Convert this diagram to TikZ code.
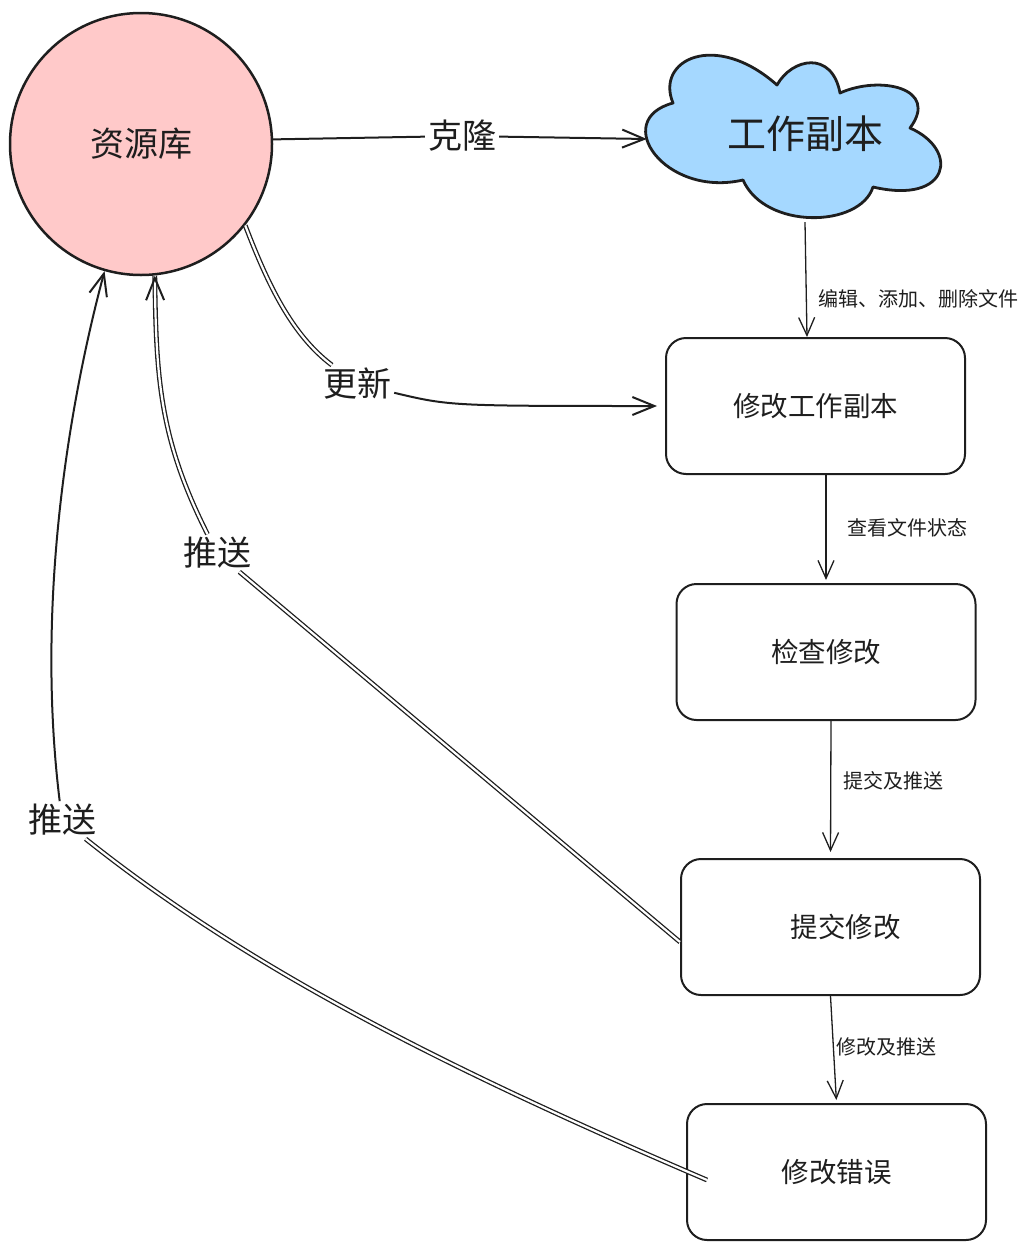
\documentclass[tikz,border=0pt]{standalone}
\usepackage{fontspec}
\setmainfont{Noto Sans CJK SC}
\usetikzlibrary{arrows.meta}
\definecolor{ink}{HTML}{1E1E1E}
\definecolor{pinkfill}{HTML}{FFC9C9}
\definecolor{bluefill}{HTML}{A5D8FF}
\begin{document}
\begin{tikzpicture}[x=1pt,y=-1pt,
  box/.style={draw=ink, line width=2pt, rounded corners=20pt, minimum width=299pt, minimum height=136pt, text=ink, font=\fontsize{27.5}{32}\selectfont},
  bigl/.style={text=ink, font=\fontsize{34}{38}\selectfont, inner sep=3pt},
  elab/.style={text=ink, font=\fontsize{20}{23}\selectfont, inner sep=0pt, anchor=west},
  thinedge/.style={draw=ink, line width=1.3pt, -{Straight Barb[length=18pt,width=16pt]}},
  edge/.style={draw=ink, line width=2pt},
  dbl/.style={draw=ink, line width=1.3pt, double=white, double distance=2.2pt},
  tip/.style={-{Straight Barb[length=22pt,width=18pt]}},
  tiponly/.style={draw=ink, line width=2pt, dash pattern=on 0pt off 9000pt, tip}
]
\useasboundingbox (0,0) rectangle (1025,1250);

% repository circle
\node[circle, draw=ink, line width=2.5pt, fill=pinkfill, minimum size=262pt, inner sep=0pt,
      text=ink, font=\fontsize{34}{38}\selectfont] (repo) at (141,144) {资源库};

% working copy cloud
\draw[draw=ink, line width=2.8pt, fill=bluefill, line join=round]
  (673,103) .. controls (655,60) and (715,30) .. (777,85)
  .. controls (792,58) and (832,50) .. (840,93)
  .. controls (880,75) and (940,88) .. (910,128)
  .. controls (960,150) and (950,205) .. (873,187)
  .. controls (860,228) and (765,230) .. (743,180)
  .. controls (665,198) and (610,120) .. cycle;
\node[minimum width=316pt, minimum height=176pt, inner sep=0pt, text=ink,
      font=\fontsize{39}{44}\selectfont] (wc) at (805,134) {工作副本};

% boxes
\node[box] (b1) at (815.5,406) {修改工作副本};
\node[box] (b2) at (826,652) {检查修改};
\node[box] (b3) at (830.5,927) {\hspace*{30pt}提交修改};
\node[box] (b4) at (836.5,1172) {修改错误};

% edge labels (big)
\node[bigl] (lclone) at (462,136) {克隆};
\node[bigl] (lupd) at (357,384) {更新};
\node[bigl] (lp1) at (217,553) {推送};
\node[bigl] (lp2) at (62,820) {推送};

% clone
\draw[edge] (repo.2) -- (lclone);
\draw[edge, tip] (lclone) -- ([yshift=-5pt]wc.west);

% cloud -> b1
\draw[thinedge] (wc.south) -- node[elab, pos=0.67, xshift=11pt] {编辑、添加、删除文件} ([xshift=-8.5pt]b1.north);
% b1 -> b2
\draw[thinedge, shorten >=3pt] ([xshift=10.5pt]b1.south) -- node[elab, pos=0.49, xshift=21pt] {查看文件状态} (b2.north);
% b2 -> b3
\draw[thinedge, shorten >=6pt] ([xshift=5pt]b2.south) -- node[elab, pos=0.44, xshift=12pt] {提交及推送} (b3.north);
% b3 -> b4
\draw[thinedge, shorten >=3pt] (b3.south) -- node[elab, pos=0.48, xshift=2pt] {修改及推送} (b4.north);

% update
\draw[dbl] (repo.-38) .. controls (268,285) and (292,335) .. (lupd);
\draw[edge, tip, shorten >=8pt] (lupd) .. controls (450,406) .. (b1.west);

% push from b3
\draw[dbl] ([yshift=-15pt]b3.west) -- (lp1);
\draw[dbl] (lp1) .. controls (160,440) and (156,380) .. (repo.-84);
\draw[tiponly] (lp1) .. controls (160,440) and (156,380) .. (repo.-84);

% push from b4
\draw[dbl] ([shift={(21pt,-8pt)}]b4.west) .. controls (450,1070) and (250,970) .. (lp2);
\draw[edge, tip] (lp2) .. controls (35,600) and (70,400) .. (repo.-106);
\end{tikzpicture}
\end{document}
